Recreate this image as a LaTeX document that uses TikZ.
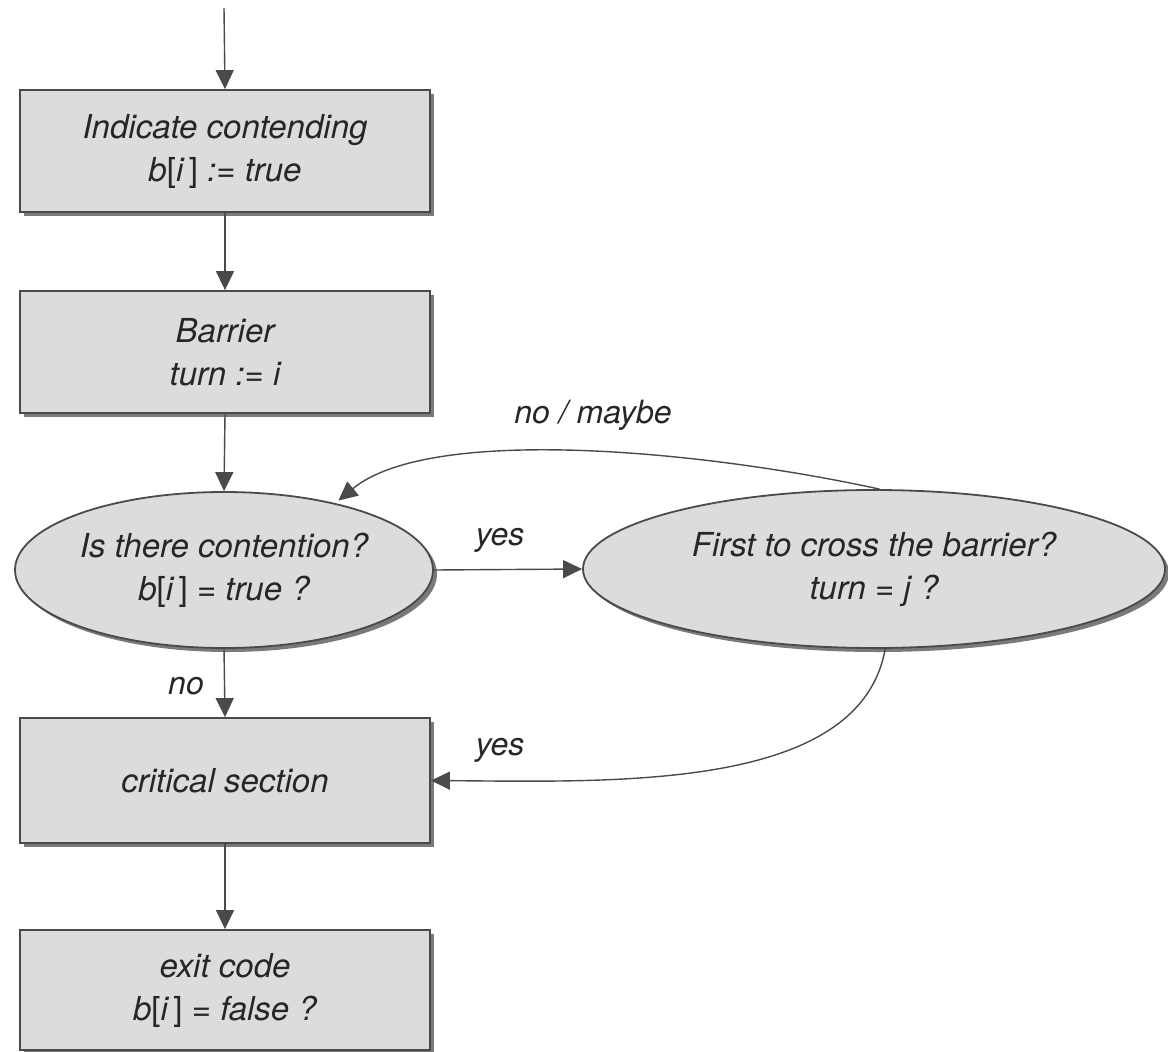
\documentclass[tikz,border=0pt]{standalone}
\usepackage{fontspec}
\setmainfont{TeX Gyre Heros}
\usetikzlibrary{shapes.geometric,arrows.meta,shadows}
\definecolor{linec}{HTML}{4A4A4A}
\definecolor{fillc}{HTML}{DCDCDC}
\definecolor{shadc}{HTML}{7A7A7A}
\newcommand{\lb}{{\upshape[}}
\newcommand{\rb}{{\upshape\,]}}
\tikzset{
  base/.style={draw=linec, line width=1.8pt, fill=fillc, align=center,
    font=\fontsize{33}{43}\selectfont\itshape, text=black!85,
    drop shadow={shadow xshift=4pt, shadow yshift=-4pt, fill=shadc, opacity=1}},
  stepbox/.style={base, rectangle, minimum width=410pt, minimum height=122pt, inner sep=0pt},
  decision/.style={base, ellipse, inner sep=0pt},
  conn/.style={draw=linec, line width=1.4pt, -{Triangle[length=19pt,width=18pt]}},
  lbl/.style={font=\fontsize{32}{42}\selectfont\itshape, text=black!85, inner sep=0pt}
}
\begin{document}
\begin{tikzpicture}[x=1pt,y=-1pt]
\useasboundingbox (0,0) rectangle (1168,1052);
\coordinate (start) at (224,8);
\node[stepbox] (b1) at (225,151) {Indicate contending\\b\lb i\rb{} := true};
\node[stepbox] (b2) at (225,352) {Barrier\\turn := i};
\node[decision, minimum width=418pt, minimum height=156pt] (e1) at (224,570) {Is there contention?\\b\lb i\rb{} = true ?};
\node[decision, minimum width=582pt, minimum height=158pt] (e2) at (874,569) {First to cross the barrier?\\turn = j ?};
\node[stepbox, minimum height=125pt] (b3) at (225,780.5) {critical section};
\node[stepbox, minimum height=120pt] (b4) at (225,990) {exit code\\b\lb i\rb{} = false ?};

\draw[conn] (start) -- (b1.north);
\draw[conn] (b1.south) -- (b2.north);
\draw[conn] (b2.south) -- (e1.north);
\draw[conn] (e1.east) -- (e2.west);
\draw[conn] (e1.south) -- (b3.north);
\draw[conn] (b3.south) -- (b4.north);
\draw[conn, shorten >=4pt] (e2.86) .. controls (700,450) and (430,425) .. (e1.31);
\draw[conn] (e2.-82) .. controls (860,790) and (620,782) .. (b3.east);

\node[lbl] (l1) at (500,540) {yes};
\node[lbl] (l2) at (186,686) {no};
\node[lbl] (l3) at (593,415) {no / maybe};
\node[lbl] (l4) at (500,750) {yes};
\end{tikzpicture}
\end{document}
